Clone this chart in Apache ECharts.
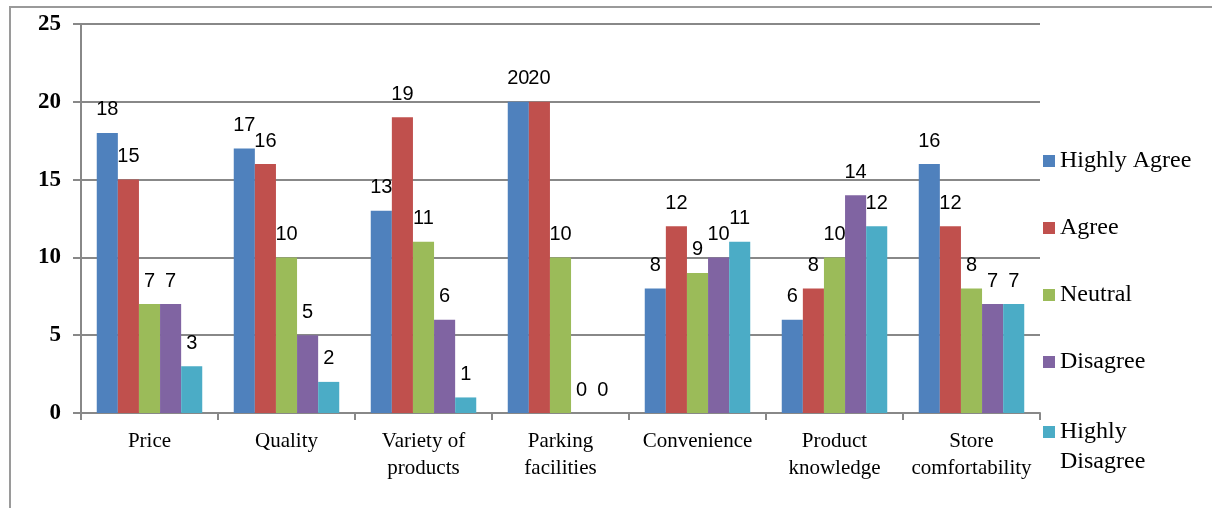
<!DOCTYPE html>
<html>
<head>
<meta charset="utf-8">
<script src="https://cdn.jsdelivr.net/npm/echarts@6/dist/echarts.min.js"></script>
<style>
  html, body { margin: 0; padding: 0; background: #fff; }
  #chart { width: 1212px; height: 508px; }
</style>
</head>
<body>
<div id="chart"></div>
<script>
// Survey responses per store attribute
const categories = ['Price', 'Quality', 'Variety of\nproducts', 'Parking\nfacilities', 'Convenience', 'Product\nknowledge', 'Store\ncomfortability'];
const highlyAgree    = [18, 17, 13, 20, 8, 6, 16];
const agree          = [15, 16, 19, 20, 12, 8, 12];
const neutral        = [7, 10, 11, 10, 9, 10, 8];
const disagree       = [7, 5, 6, 0, 10, 14, 7];
const highlyDisagree = [3, 2, 1, 0, 11, 12, 7];
const yTicks = [0, 5, 10, 15, 20, 25];

const seriesDefs = [
  { name: 'Highly Agree', data: highlyAgree, color: '#4F81BD' },
  { name: 'Agree', data: agree, color: '#C0504D' },
  { name: 'Neutral', data: neutral, color: '#9BBB59' },
  { name: 'Disagree', data: disagree, color: '#8064A2' },
  { name: 'Highly Disagree', data: highlyDisagree, color: '#4BACC6' }
];

const chart = echarts.init(document.getElementById('chart'), null, { renderer: 'canvas' });

const serif = '"Liberation Serif", "Times New Roman", serif';
const sans = '"Liberation Sans", Arial, sans-serif';

const legendText = { fontFamily: serif, fontSize: 24, color: '#000', lineHeight: 30 };

const legendBase = {
  orient: 'vertical',
  left: 1043,
  padding: 0,
  itemWidth: 12,
  itemHeight: 12,
  itemGap: 37,
  icon: 'rect',
  textStyle: legendText
};

chart.setOption({
  animation: false,
  backgroundColor: '#fff',
  graphic: [{
    type: 'rect',
    shape: { x: 10, y: 7, width: 1400, height: 700 },
    style: { fill: 'none', stroke: '#9a9a9a', lineWidth: 2 },
    silent: true,
    z: -1
  }],
  grid: { left: 81, right: 172, top: 24, bottom: 95, containLabel: false },
  legend: [
    Object.assign({}, legendBase, {
      top: 146,
      data: seriesDefs.slice(0, 4).map(s => s.name)
    }),
    // last entry wraps onto two lines; a blank spacer line on top keeps
    // the first line level with its swatch
    Object.assign({}, legendBase, {
      top: 387,
      textStyle: Object.assign({}, legendText, {
        rich: {
          gap: { fontFamily: serif, fontSize: 24, lineHeight: 30 },
          t: { fontFamily: serif, fontSize: 24, lineHeight: 30, color: '#000' }
        }
      }),
      data: [seriesDefs[4].name],
      formatter: () => '{gap| }\n{t|Highly}\n{t|Disagree}'
    })
  ],
  xAxis: {
    type: 'category',
    data: categories,
    axisLine: { show: true, lineStyle: { color: '#888', width: 2 } },
    axisTick: { show: true, length: 7, lineStyle: { color: '#888', width: 2 } },
    axisLabel: { fontFamily: serif, fontSize: 21, color: '#000', margin: 15, lineHeight: 27, interval: 0 }
  },
  yAxis: {
    type: 'value',
    min: yTicks[0],
    max: yTicks[yTicks.length - 1],
    interval: 5,
    axisLine: { show: true, lineStyle: { color: '#888', width: 2 } },
    axisTick: { show: true, length: 8, lineStyle: { color: '#888', width: 2 } },
    splitLine: { show: true, lineStyle: { color: '#888', width: 2 } },
    axisLabel: { fontFamily: serif, fontSize: 23, fontWeight: 'bold', color: '#000', margin: 20 }
  },
  series: seriesDefs.map(s => ({
    name: s.name,
    type: 'bar',
    data: s.data,
    barGap: '0%',
    barCategoryGap: '23%',
    itemStyle: { color: s.color },
    label: {
      show: true,
      position: 'top',
      distance: 13,
      fontFamily: sans,
      fontSize: 20,
      color: '#000'
    }
  }))
});
</script>
</body>
</html>
